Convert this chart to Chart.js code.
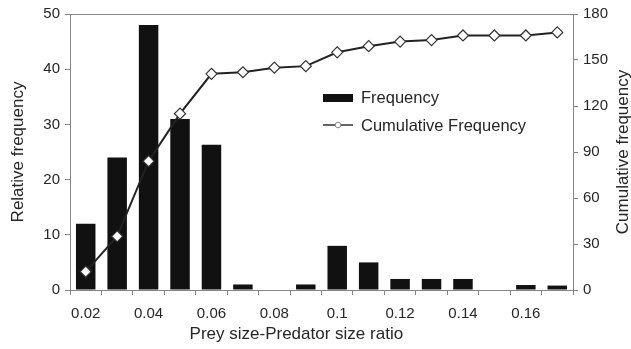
<!DOCTYPE html>
<html>
<head>
<meta charset="utf-8">
<script src="https://cdn.jsdelivr.net/npm/chart.js@4.4.0/dist/chart.umd.min.js"></script>
<style>
  html, body { margin: 0; padding: 0; background: #fff; }
  #wrap { width: 631px; height: 349px; position: relative; }
</style>
</head>
<body>
<div id="wrap"><canvas id="chart"></canvas></div>
<script>
// data
const categories = ['0.02', '0.03', '0.04', '0.05', '0.06', '0.07', '0.08', '0.09',
                    '0.1', '0.11', '0.12', '0.13', '0.14', '0.15', '0.16', '0.17'];
const frequency = [12, 24, 48, 31, 26.3, 1, 0, 1, 8, 5, 2, 2, 2, 0, 0.9, 0.8];
const cumulative = [12, 35, 84, 115, 141, 142, 145, 146, 155, 159, 162, 163, 166, 166, 166, 168];
const xTickLabels = ['0.02', '0.04', '0.06', '0.08', '0.1', '0.12', '0.14', '0.16'];
const leftTicks = [0, 10, 20, 30, 40, 50];
const rightTicks = [0, 30, 60, 90, 120, 150, 180];

const FONT = "'Liberation Sans', Arial, Helvetica, sans-serif";
const textColor = '#262626';
const axisColor = '#858585';

// titles, legend and top frame line
const extras = {
    id: 'extras',
    afterDraw(chart) {
        const ctx = chart.ctx;
        const a = chart.chartArea;
        const midY = (a.top + a.bottom) / 2;
        ctx.save();

        ctx.strokeStyle = axisColor;
        ctx.lineWidth = 1;
        ctx.beginPath();
        ctx.moveTo(a.left, a.top + 0.5);
        ctx.lineTo(a.right, a.top + 0.5);
        ctx.stroke();

        ctx.fillStyle = textColor;
        ctx.font = '17px ' + FONT;
        ctx.textAlign = 'center';
        ctx.textBaseline = 'middle';
        ctx.fillText('Prey size-Predator size ratio', a.left + (a.right - a.left) * 0.45, 334);

        ctx.save();
        ctx.translate(18, midY);
        ctx.rotate(-Math.PI / 2);
        ctx.fillText('Relative frequency', 0, 0);
        ctx.restore();

        ctx.save();
        ctx.translate(623, midY);
        ctx.rotate(-Math.PI / 2);
        ctx.fillText('Cumulative frequency', 0, 0);
        ctx.restore();

        // legend
        const ds = chart.data.datasets;
        const lx = a.left + 253;
        const ly = a.top + 84;
        ctx.font = '16.5px ' + FONT;
        ctx.textAlign = 'left';
        ctx.fillStyle = '#111';
        ctx.fillRect(lx, ly - 4, 30, 8);
        ctx.fillStyle = textColor;
        ctx.fillText(ds[0].label, lx + 38, ly);

        const ly2 = ly + 27;
        ctx.strokeStyle = '#333';
        ctx.lineWidth = 1.5;
        ctx.beginPath();
        ctx.moveTo(lx, ly2);
        ctx.lineTo(lx + 30, ly2);
        ctx.stroke();
        ctx.fillStyle = '#fff';
        ctx.strokeStyle = '#888';
        ctx.lineWidth = 1;
        ctx.beginPath();
        ctx.arc(lx + 15, ly2, 2.8, 0, Math.PI * 2);
        ctx.fill();
        ctx.stroke();
        ctx.fillStyle = textColor;
        ctx.fillText(ds[1].label, lx + 38, ly2 + 1);

        ctx.restore();
    }
};

const ctx = document.getElementById('chart').getContext('2d');

new Chart(ctx, {
    data: {
        labels: categories,
        datasets: [{
            type: 'bar',
            label: 'Frequency',
            data: frequency,
            yAxisID: 'y',
            backgroundColor: '#111',
            borderWidth: 0,
            barPercentage: 0.62,
            categoryPercentage: 1,
            order: 2
        }, {
            type: 'line',
            label: 'Cumulative Frequency',
            data: cumulative,
            yAxisID: 'y1',
            borderColor: '#222',
            borderWidth: 2,
            pointStyle: 'rectRot',
            pointRadius: 5.5,
            pointBackgroundColor: '#fff',
            pointBorderColor: '#333',
            pointBorderWidth: 1.2,
            tension: 0,
            order: 1
        }]
    },
    options: {
        responsive: true,
        maintainAspectRatio: false,
        animation: false,
        layout: {
            padding: { top: 13, left: 0, right: 0, bottom: 0 }
        },
        scales: {
            x: {
                offset: true,
                afterFit: function (scale) { scale.height = 59; },
                grid: {
                    offset: true,
                    drawOnChartArea: false,
                    tickLength: 5,
                    color: axisColor
                },
                border: { color: axisColor },
                ticks: {
                    autoSkip: false,
                    maxRotation: 0,
                    minRotation: 0,
                    padding: 10,
                    color: textColor,
                    font: { size: 15, family: FONT },
                    callback: function (val, i) {
                        const lab = categories[i];
                        return xTickLabels.includes(lab) ? lab : '';
                    }
                }
            },
            y: {
                position: 'left',
                min: leftTicks[0],
                max: leftTicks[leftTicks.length - 1],
                afterFit: function (scale) { scale.width = 70; },
                grid: { drawOnChartArea: false, tickLength: 5, color: axisColor },
                border: { color: axisColor },
                ticks: {
                    stepSize: leftTicks[1] - leftTicks[0],
                    padding: 5,
                    color: textColor,
                    font: { size: 15, family: FONT }
                }
            },
            y1: {
                position: 'right',
                min: rightTicks[0],
                max: rightTicks[rightTicks.length - 1],
                afterFit: function (scale) { scale.width = 58; },
                grid: { drawOnChartArea: false, tickLength: 5, color: axisColor },
                border: { color: axisColor },
                ticks: {
                    stepSize: rightTicks[1] - rightTicks[0],
                    padding: 5,
                    color: textColor,
                    font: { size: 15, family: FONT }
                }
            }
        },
        plugins: {
            legend: { display: false },
            tooltip: { enabled: false }
        }
    },
    plugins: [extras]
});
</script>
</body>
</html>
